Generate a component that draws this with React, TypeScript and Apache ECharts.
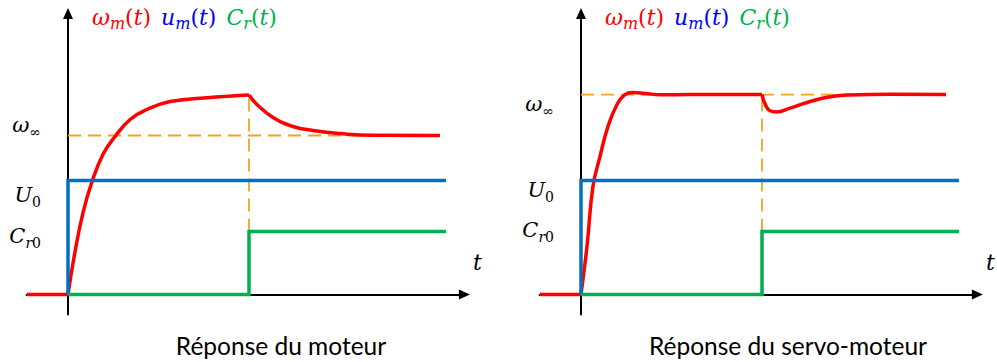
import React, { useEffect, useRef } from 'react';
import * as echarts from 'echarts';

// ---------- data (time in units of the load-step instant, values in units of U0) ----------
const tStart = -0.227;
const tStep = 1;
const tEnd = 2.088;
const U0 = 1;
const Cr0 = 0.553;
const omegaInfLeft = 1.395;
const omegaPeakLeft = 1.75;
const omegaInfRight = 1.754;

const leftOmegaRise: [number, number][] = [
  [0, 0], [0.039, 0.377], [0.083, 0.719], [0.133, 0.991], [0.193, 1.228], [0.26, 1.386],
  [0.343, 1.535], [0.436, 1.623], [0.564, 1.693], [0.785, 1.728], [1, 1.75],
];
const leftOmegaDecay: [number, number][] = [
  [1, 1.75], [1.044, 1.667], [1.133, 1.553], [1.243, 1.474], [1.354, 1.439], [1.503, 1.412],
  [1.685, 1.397], [2.055, 1.395],
];
const rightOmegaRise: [number, number][] = [
  [0, 0], [0.033, 0.421], [0.066, 0.947], [0.105, 1.211], [0.149, 1.474], [0.199, 1.667],
  [0.243, 1.754], [0.287, 1.772], [0.354, 1.764], [0.44, 1.752], [0.6, 1.754], [1, 1.754],
];
const rightOmegaDip: [number, number][] = [
  [1, 1.754], [1.017, 1.672], [1.044, 1.612], [1.08, 1.602], [1.155, 1.635], [1.249, 1.684],
  [1.359, 1.73], [1.486, 1.75], [1.7, 1.756], [2.017, 1.754],
];
const omegaBefore: [number, number][] = [[tStart, 0], [0, 0]];
const uSignal: [number, number][] = [[0, 0], [0, U0], [tEnd, U0]];
const crSignal: [number, number][] = [[0, 0], [tStep, 0], [tStep, Cr0], [tEnd, Cr0]];

const leftRefH: [number, number][] = [[0, omegaInfLeft], [2.055, omegaInfLeft]];
const leftRefV: [number, number][] = [[tStep, Cr0], [tStep, omegaPeakLeft]];
const rightRefH: [number, number][] = [[0, omegaInfRight], [2.017, omegaInfRight]];
const rightRefV: [number, number][] = [[tStep, Cr0], [tStep, omegaInfRight]];

const yLabelNames = ['Cr0', 'U0', 'wInf'];
const leftLabelPos = [0.509, 0.87, 1.491];
const rightLabelPos = [0.57, 0.92, 1.667];
const legendNames = ['omega', 'u', 'C'];
const captions = ['Réponse du moteur', 'Réponse du servo-moteur'];

// ---------- styles ----------
const MATH = 'DejaVu Serif';
const RED = '#FF0000';
const BLUE = '#0070C0';
const GREEN = '#00B050';
const ORANGE = '#F5A21E';
const X_MIN = -0.229;
const X_MAX = 2.19;
const Y_MIN = -0.175;
const Y_MAX = 2.465;
const PX_X = 181;
const PX_Y = 114;

const mk = (color: string, size: number, italic: boolean, sub: boolean) => ({
  fontFamily: MATH,
  fontStyle: italic ? 'italic' : 'normal',
  fontSize: size,
  lineHeight: sub ? size : 28,
  verticalAlign: sub ? 'bottom' : 'middle',
  color,
});

const legendRich: any = {};
[['r', RED], ['b', '#0000FF'], ['g', '#00B050']].forEach(([k, c]) => {
  legendRich[k + 'i'] = mk(c, 22, true, false);
  legendRich[k + 'u'] = mk(c, 22, false, false);
  legendRich[k + 's'] = mk(c, 16, true, true);
});
const legendText: Record<string, string> = {
  omega: '{ri|ω}{rs|m}{ru|(}{ri|t}{ru|)}',
  u: '{bi|u}{bs|m}{bu|(}{bi|t}{bu|)}',
  C: '{gi|C}{gs|r}{gu|(}{gi|t}{gu|)}',
};

const labelRich: any = {
  i: mk('#000', 21, true, false),
  si: mk('#000', 14, true, true),
  su: mk('#000', 14, false, true),
};
const labelText: Record<string, string> = {
  Cr0: '{i|C}{si|r}{su|0}',
  U0: '{i|U}{su|0}',
  wInf: '{i|ω}{su|∞}',
};

function buildOption() {
  const panels = [
    { origin: 68, labels: leftLabelPos, legendLeft: 87, captionX: 281,
      rise: leftOmegaRise, after: leftOmegaDecay, refH: leftRefH, refV: leftRefV },
    { origin: 581, labels: rightLabelPos, legendLeft: 600, captionX: 788,
      rise: rightOmegaRise, after: rightOmegaDip, refH: rightRefH, refV: rightRefV },
  ];
  const grid: any[] = [];
  const xAxis: any[] = [];
  const yAxis: any[] = [];
  const series: any[] = [];
  const legend: any[] = [];
  const graphic: any[] = [];
  const gridOffset = -X_MIN * PX_X; // distance from grid edge to the time origin

  panels.forEach((p, i) => {
    grid.push({
      left: p.origin - gridOffset, top: 13.5, width: (X_MAX - X_MIN) * PX_X, height: (Y_MAX - Y_MIN) * PX_Y,
      outerBoundsMode: 'none', containLabel: false,
    });
    const axisLine = {
      onZero: true,
      symbol: ['none', 'triangle'],
      symbolSize: [10, 11],
      lineStyle: { color: '#000', width: 2 },
    };
    xAxis.push({
      type: 'value', gridIndex: i, min: X_MIN, max: X_MAX,
      axisLine, axisTick: { show: false }, axisLabel: { show: false }, splitLine: { show: false },
      name: 't', nameLocation: 'end', nameGap: 8.5,
      nameTextStyle: { fontFamily: MATH, fontStyle: 'italic', fontSize: 22, color: '#000', verticalAlign: 'bottom', lineHeight: 64 },
    });
    yAxis.push({
      type: 'value', gridIndex: i, min: Y_MIN, max: Y_MAX,
      axisLine, axisTick: { show: false }, splitLine: { show: false },
      axisLabel: {
        customValues: p.labels,
        margin: 27 - gridOffset,
        formatter: (v: number) => {
          let best = 0;
          p.labels.forEach((lv, k) => { if (Math.abs(lv - v) < Math.abs(p.labels[best] - v)) best = k; });
          return labelText[yLabelNames[best]];
        },
        rich: labelRich,
      },
    });
    const base = { type: 'line', xAxisIndex: i, yAxisIndex: i, showSymbol: false, symbol: 'none', silent: true };
    const dash = { color: ORANGE, width: 1.8, type: [13, 7] };
    series.push({ ...base, name: 'ref', data: p.refH, lineStyle: dash });
    series.push({ ...base, name: 'ref', data: p.refV, lineStyle: dash });
    series.push({ ...base, name: 'omega', color: RED, data: omegaBefore, lineStyle: { color: RED, width: 3.5 } });
    series.push({ ...base, name: 'omega', color: RED, data: p.rise, smooth: 0.45, lineStyle: { color: RED, width: 3.5 } });
    series.push({ ...base, name: 'omega', color: RED, data: p.after, smooth: 0.5, lineStyle: { color: RED, width: 3.5 } });
    series.push({ ...base, name: 'u', color: BLUE, data: uSignal, lineStyle: { color: BLUE, width: 3.5, join: 'miter' } });
    series.push({ ...base, name: 'C', color: GREEN, data: crSignal, lineStyle: { color: GREEN, width: 3.5, join: 'miter' } });

    legend.push({
      data: legendNames, left: p.legendLeft, top: 6, icon: 'none', itemWidth: 0, itemHeight: 0,
      itemGap: 5, selectedMode: false, padding: 0,
      formatter: (n: string) => legendText[n],
      textStyle: { rich: legendRich },
    });
    graphic.push({
      type: 'text', x: p.captionX, y: 345,
      style: { text: captions[i], fontFamily: 'Lato', fontSize: 24.5, fill: '#000', align: 'center', verticalAlign: 'middle' },
    });
  });

  return { animation: false, backgroundColor: '#fff', grid, xAxis, yAxis, series, legend, graphic };
}

export default function App() {
  const ref = useRef<HTMLDivElement>(null);
  useEffect(() => {
    if (!ref.current) return;
    const chart = echarts.init(ref.current, undefined, { renderer: 'svg' });
    chart.setOption(buildOption() as any);
    return () => chart.dispose();
  }, []);
  return <div ref={ref} style={{ position: 'absolute', left: 0, top: 0, width: 997, height: 362 }} />;
}
